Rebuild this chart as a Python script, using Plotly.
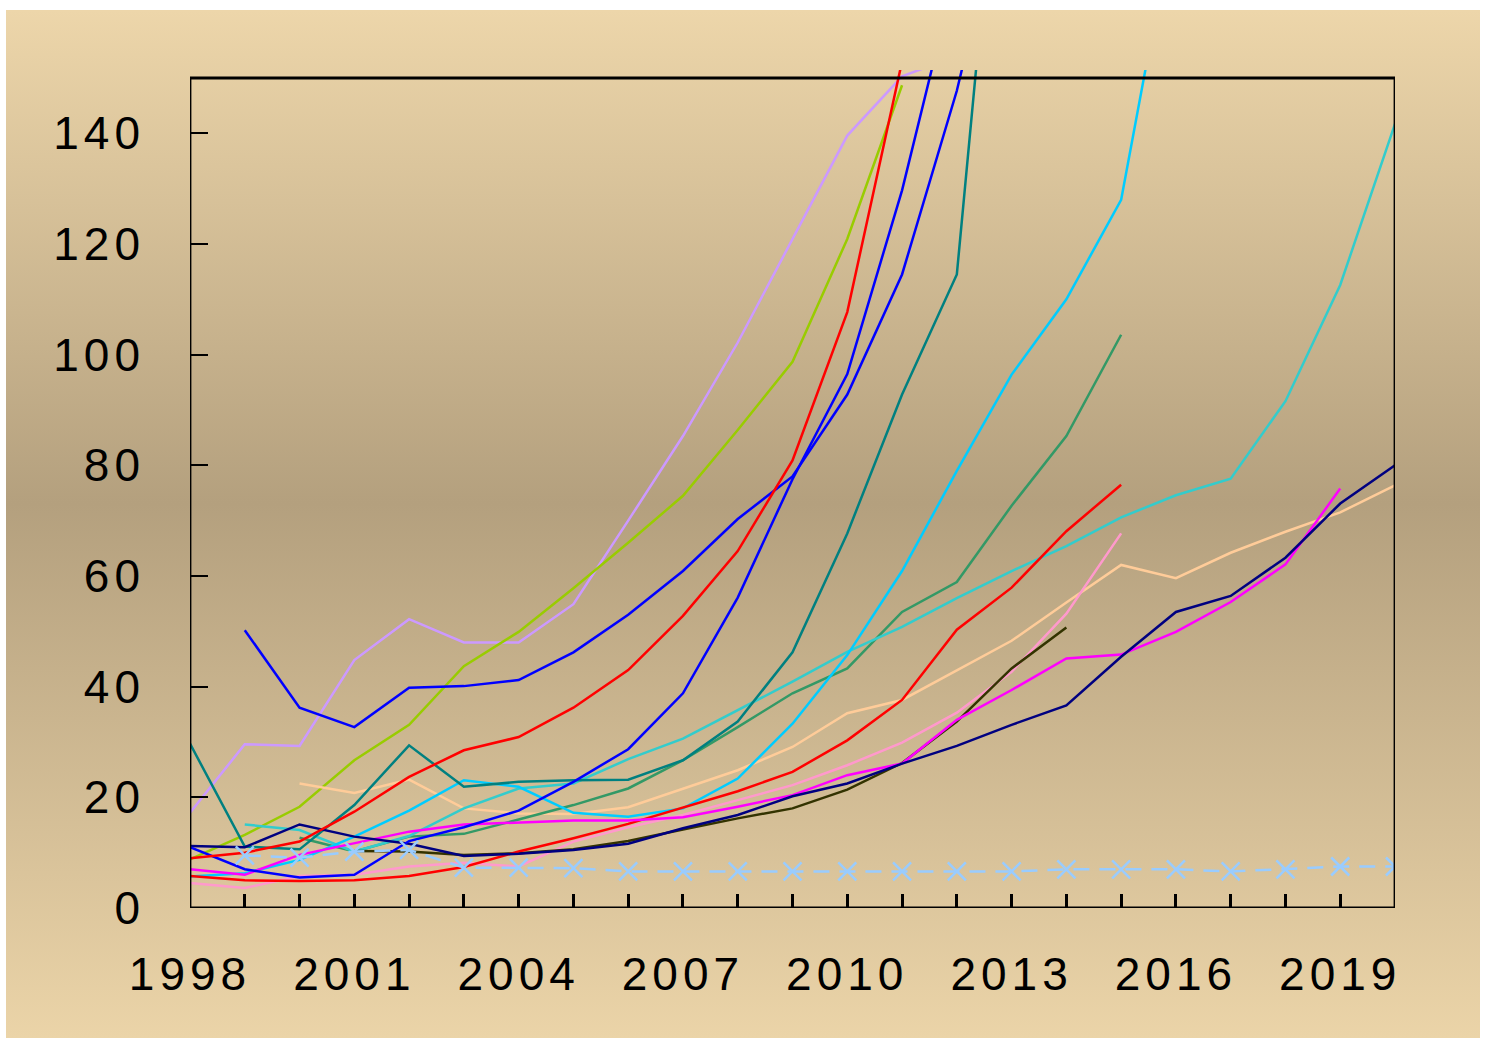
import base64
import plotly.graph_objects as go

N = None
years = list(range(1998, 2021))

lavender = [17.2, 29.6, 29.3, 44.8, 52.2, 48.0, 48.0, 54.9, 70.0, 85.3, 102.2, 120.9, 139.6, 150.3, 154.0] + [N] * 8
yellowgreen = [8.8, 13.2, 18.3, 26.7, 33.1, 43.7, 49.9, 57.8, 66.0, 74.5, 86.4, 98.7, 120.9, 148.7] + [N] * 9
red_a = [9.0, 10.0, 12.0, 17.4, 23.7, 28.5, 30.9, 36.2, 43.0, 52.8, 64.5, 80.9, 107.7, 153.0] + [N] * 9
blue_a = [N, 50.2, 36.2, 32.7, 39.8, 40.1, 41.2, 46.2, 53.0, 60.9, 70.3, 78.0, 92.8, 114.5, 147.7, 189.0] + [N] * 7
blue_b = [11.0, 7.0, 5.5, 6.0, 12.1, 14.6, 17.6, 22.8, 28.7, 38.8, 56.1, 77.5, 96.5, 129.7, 170.0] + [N] * 8
navy = [11.2, 11.0, 15.1, 12.9, 11.6, 9.4, 9.8, 10.5, 11.6, 14.4, 16.8, 20.2, 22.5, 26.1, 29.3, 33.1,
        36.6, 45.4, 53.5, 56.4, 63.3, 73.1, 80.0]
teal = [29.7, 11.1, 10.6, 18.6, 29.4, 21.9, 22.8, 23.1, 23.2, 26.7, 33.7, 46.2, 67.7, 92.8, 114.5, 220.0] + [N] * 7
cyan = [5.7, 6.3, 8.7, 12.9, 17.6, 23.1, 21.9, 17.2, 16.5, 18.0, 23.4, 33.3, 45.7, 60.9, 79.0, 96.4,
        110.0, 128.0, 181.0] + [N] * 4
turquoise = [N, 15.1, 14.1, 10.2, 13.0, 18.0, 21.6, 22.5, 26.9, 30.6, 35.8, 40.9, 46.3, 50.8, 56.0, 60.9,
             65.4, 70.6, 74.6, 77.6, 91.6, 112.6, 141.7]
seagreen = [N, N, 12.7, 10.2, 12.9, 13.4, 16.0, 18.6, 21.6, 26.7, 32.7, 38.8, 43.3, 53.5, 58.9, 72.7,
            85.3, 103.6] + [N] * 5
peach = [N, N, 22.5, 20.8, 23.2, 18.0, 17.1, 17.0, 18.2, 21.6, 24.9, 29.1, 35.2, 37.6, 43.0, 48.3,
         55.2, 62.0, 59.6, 64.2, 68.0, 71.5, 76.4]
pink = [4.5, 3.6, 5.8, 6.0, 7.5, 8.2, 7.5, 12.0, 14.6, 16.8, 19.5, 22.2, 25.8, 29.9, 35.3, 42.7,
        53.2, 67.7] + [N] * 5
olive = [N, N, N, 10.3, 10.2, 9.6, 9.9, 10.6, 12.1, 14.2, 16.2, 18.0, 21.4, 26.2, 33.7, 43.3, 50.7] + [N] * 6
magenta = [7.0, 6.0, 9.6, 11.7, 13.8, 15.1, 15.5, 15.8, 15.8, 16.4, 18.3, 20.4, 24.0, 26.1, 34.0, 39.4,
           45.1, 45.8, 49.9, 55.3, 62.1, 75.8, N]
red_b = [5.8, 5.0, 4.9, 5.0, 5.8, 7.4, 10.2, 12.6, 15.2, 18.2, 21.1, 24.6, 30.3, 37.6, 50.3, 57.9,
         68.1, 76.5] + [N] * 5
lightblue = [N, 9.5, 9.1, 10.2, 10.5, 7.3, 7.3, 7.2, 6.6, 6.6, 6.6, 6.6, 6.6, 6.6, 6.6, 6.6,
             7.0, 7.0, 7.0, 6.6, 7.0, 7.5, 7.5]

x_tickvals = [1998, 2001, 2004, 2007, 2010, 2013, 2016, 2019]
x_ticktext = ["1998", "2001", "2004", "2007", "2010", "2013", "2016", "2019"]
y_tickvals = [0, 20, 40, 60, 80, 100, 120, 140]
y_ticktext = ["0", "20", "40", "60", "80", "100", "120", "140"]

series = [
    (lavender, "#CC99FF"),
    (yellowgreen, "#99CC00"),
    (peach, "#FFCC99"),
    (pink, "#FF99CC"),
    (seagreen, "#339966"),
    (turquoise, "#33CCCC"),
    (cyan, "#00CCFF"),
    (teal, "#008080"),
    (olive, "#333300"),
    (red_b, "#FF0000"),
    (magenta, "#FF00FF"),
    (navy, "#000080"),
    (blue_b, "#0000FF"),
    (blue_a, "#0000FF"),
    (red_a, "#FF0000"),
]

fig = go.Figure()
for vals, col in series:
    fig.add_trace(go.Scatter(x=years, y=vals, mode="lines",
                             line=dict(color=col, width=2.5),
                             connectgaps=False, showlegend=False))

fig.add_trace(go.Scatter(x=years, y=lightblue, mode="lines+markers",
                         line=dict(color="#99CCFF", width=2.5, dash="16px,10px"),
                         marker=dict(symbol="x-thin", size=18,
                                     line=dict(color="#99CCFF", width=2.5)),
                         showlegend=False))

svg = ('<svg xmlns="http://www.w3.org/2000/svg" width="100" height="100" preserveAspectRatio="none">'
       '<defs><linearGradient id="g" x1="0" y1="0" x2="0" y2="1">'
       '<stop offset="0" stop-color="#EDD6AA"/>'
       '<stop offset="0.48" stop-color="#B4A07E"/>'
       '<stop offset="1" stop-color="#EBD4A8"/>'
       '</linearGradient></defs>'
       '<rect width="100" height="100" fill="url(#g)"/></svg>')
src = "data:image/svg+xml;base64," + base64.b64encode(svg.encode()).decode()

W, H = 1486, 1041
L, R, T, B = 190, 91, 70, 133
pw, ph = W - L - R, H - T - B

fig.add_layout_image(dict(
    source=src, xref="paper", yref="paper",
    x=(6 - L) / pw, y=(H - B - 10) / ph,
    sizex=1474 / pw, sizey=1028 / ph,
    xanchor="left", yanchor="top", sizing="stretch", layer="below"))

fig.add_shape(type="rect", xref="x", yref="y", x0=1998, x1=2020, y0=0, y1=150,
              line=dict(color="black", width=2.8), layer="above")

tickfont = dict(family="Liberation Sans, Arial, sans-serif", size=46, color="black")

fig.update_layout(
    width=W, height=H,
    margin=dict(l=L, r=R, t=T, b=B, pad=0),
    paper_bgcolor="white",
    plot_bgcolor="rgba(0,0,0,0)",
    showlegend=False,
    xaxis=dict(range=[1998, 2020], tickmode="array", tickvals=x_tickvals, ticktext=x_ticktext,
               ticks="inside", ticklen=14, tickwidth=2.5, tickcolor="black",
               minor=dict(tickmode="linear", tick0=1998, dtick=1, ticks="inside",
                          ticklen=14, tickwidth=2.5, tickcolor="black"),
               showgrid=False, zeroline=False, showline=False,
               tickfont=tickfont, ticklabelstandoff=35),
    yaxis=dict(range=[0, 151.45], tickmode="array", tickvals=y_tickvals, ticktext=y_ticktext,
               ticks="inside", ticklen=18, tickwidth=2, tickcolor="black",
               showgrid=False, zeroline=False, showline=False,
               tickfont=tickfont, ticklabelstandoff=44),
)

post = ("document.body.style.margin='0px';"
        "document.querySelectorAll('.xtick text, .ytick text').forEach(function(t){"
        "t.style.letterSpacing='5px';});")
fig.write_html("out.html", post_script=post, config={"displayModeBar": False})
